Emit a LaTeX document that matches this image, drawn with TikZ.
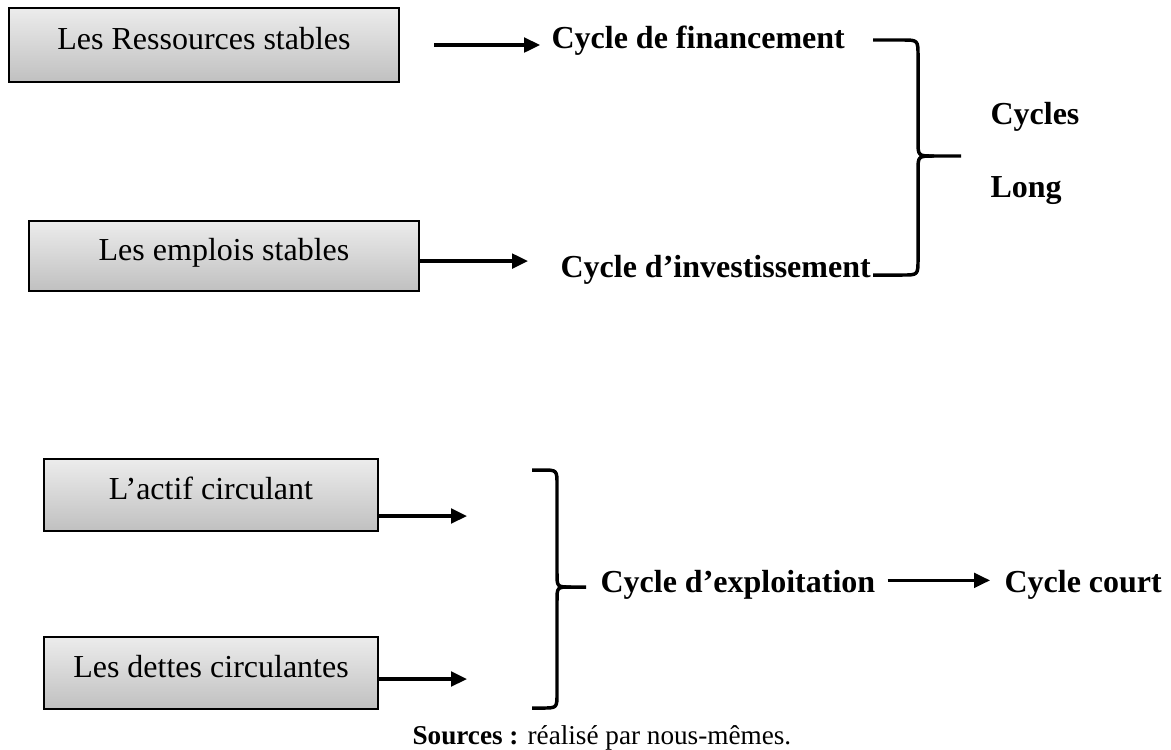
\documentclass[tikz,border=0pt]{standalone}
\usepackage{fontspec}
\setmainfont{Liberation Serif}
\usetikzlibrary{arrows.meta}
\definecolor{boxtop}{RGB}{236,236,236}
\definecolor{boxbot}{RGB}{192,192,192}
\tikzset{
  boxnode/.style={draw=black, line width=0.8pt, top color=boxtop, bottom color=boxbot,
    inner sep=0pt, text height=8pt, text depth=4.8pt, font=\fontsize{12}{14}\selectfont},
  lbl/.style={inner sep=0pt, anchor=base west, font=\fontsize{12}{14}\selectfont\bfseries},
  arr/.style={line width=1.2pt, -{Triangle[length=6pt,width=5.5pt]}},
  bracepath/.style={line width=1.3pt, line join=round, line cap=butt}
}
\begin{document}
\begin{tikzpicture}[x=0.375pt, y=-0.375pt]
\useasboundingbox (0,0) rectangle (1171,749);

% boxes
\node[boxnode, minimum width=146.25pt, minimum height=27.75pt] (b1) at (204,45) {Les Ressources stables};
\node[boxnode, minimum width=146.25pt, minimum height=26.25pt] (b2) at (224,256) {Les emplois stables};
\node[boxnode, minimum width=125.25pt, minimum height=27pt] (b3) at (211,495) {L’actif circulant};
\node[boxnode, minimum width=125.25pt, minimum height=27pt] (b4) at (211,673) {Les dettes circulantes};

% labels
\node[lbl] (fin) at (551,48) {Cycle de financement};
\node[lbl] (inv) at (560,277) {Cycle d’investissement};
\node[lbl] (cyc) at (990,124) {Cycles};
\node[lbl] (long) at (990,197) {Long};
\node[lbl] (exp) at (600,592) {Cycle d’exploitation};
\node[lbl] (court) at (1004,592) {Cycle court};
\node[inner sep=0pt, anchor=base west, font=\fontsize{10.2}{12}\selectfont] (src) at (412,744)
  {\textbf{Sources :} réalisé par nous-mêmes.};

% arrows
\draw[arr, shorten <=12.75pt, shorten >=4.1pt] (b1.east) -- (b1.east -| fin.west);
\draw[arr, shorten >=12pt] ([yshift=-1.9pt]b2.east) -- ([yshift=-1.9pt]b2.east -| inv.west);
\coordinate (t3) at (467,516);
\coordinate (t4) at (467,679);
\draw[arr] (b3.east |- t3) -- (t3);
\draw[arr] (b4.east |- t4) -- (t4);
\draw[arr, shorten <=4.5pt, shorten >=5.25pt] ([yshift=1.5pt]exp.east) -- ([yshift=1.5pt]exp.east -| court.west);

% brace for long cycles
\draw[bracepath] (873,40) -- (902,40) .. controls (918,40) .. (918,56) -- (918,141)
  .. controls (918,156) .. (934,156) -- (961,156);
\draw[bracepath] (934,156) .. controls (918,156) .. (918,171) -- (918,259)
  .. controls (918,275) .. (902,275) -- (873,275);

% brace for operating cycle
\draw[bracepath] (532,470) -- (542,470) .. controls (557,470) .. (557,485) -- (557,573)
  .. controls (557,587) .. (571,587) -- (586,587);
\draw[bracepath] (571,587) .. controls (557,587) .. (557,601) -- (557,693)
  .. controls (557,708) .. (542,708) -- (532,708);
\end{tikzpicture}
\end{document}
